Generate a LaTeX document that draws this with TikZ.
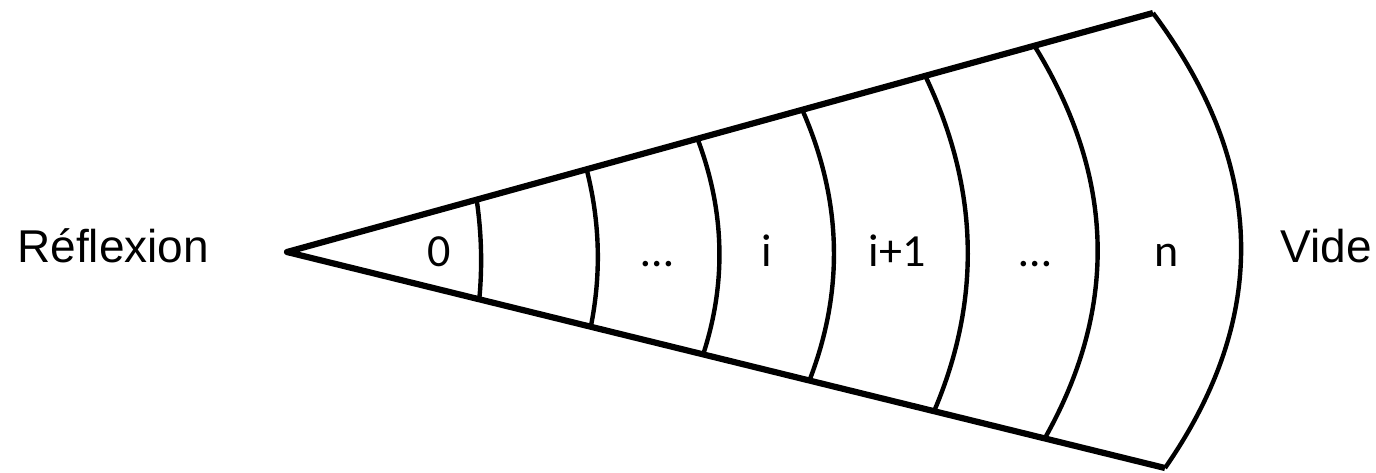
\documentclass[tikz,border=0pt]{standalone}
\usepackage{fontspec}
\setmainfont{Liberation Sans}
\newfontfamily\calib{Carlito}
\usetikzlibrary{calc}

\begin{document}
\begin{tikzpicture}[x=0.5pt, y=-0.5pt, wedge/.style={draw, line width=3.1pt, line join=round}, layer/.style={draw, line width=2.2pt}, lbl/.style={anchor=base, inner sep=0pt, font={\calib\fontsize{23}{28}\selectfont}}, side/.style={anchor=base west, inner sep=0pt, font=\fontsize{23}{28}\selectfont}]
\useasboundingbox (0,0) rectangle (1376,472);
\coordinate (apex) at (287,252);
\coordinate (toptip) at (1153,13);
\coordinate (bottip) at (1165,468);
% layer boundaries: fraction along the edges / bulge of the arc
\foreach \f/\s [count=\k] in {.219/3, .346/9, .474/19, .595/28, .737/38, .863/58, 1/82} {
  \coordinate (t\k) at ($(apex)!\f!(toptip)$);
  \coordinate (b\k) at ($(apex)!\f!(bottip)$);
  \coordinate (c\k) at ($($(t\k)!.5!(b\k)$)+(2*\s,0)$);
  \draw[layer] (t\k) .. controls ($(t\k)!2/3!(c\k)$) and ($(b\k)!2/3!(c\k)$) .. (b\k);
}
\draw[wedge] (toptip) -- (apex) -- (bottip);
\node[lbl] (l0) at (439,266) {0};
\node[lbl] (l1) at (657,266) {…};
\node[lbl] (li) at (767,266) {i};
\node[lbl] (lj) at (897,266) {i+1};
\node[lbl] (l2) at (1035,266) {…};
\node[lbl] (ln) at (1167,266) {n};
\node[side] (refl) at (17,262) {Réflexion};
\node[side] (vide) at (1280,262) {Vide};
\end{tikzpicture}
\end{document}
